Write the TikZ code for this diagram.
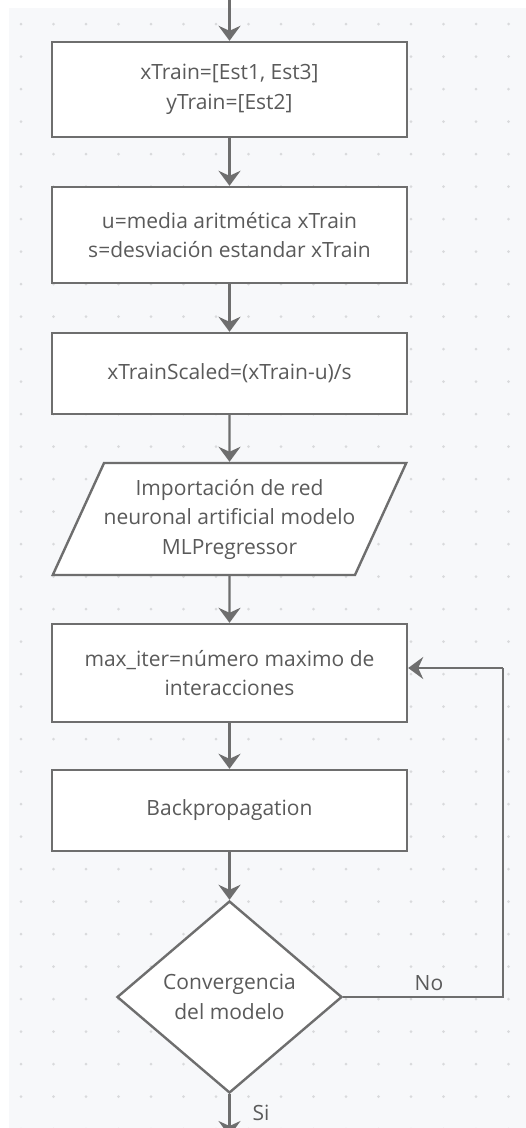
\documentclass[tikz,border=0pt]{standalone}
\usepackage{fontspec}
\setmainfont{Open Sans}
\usetikzlibrary{shapes.geometric,arrows.meta}

\definecolor{linegray}{HTML}{6E6E6E}
\definecolor{textgray}{HTML}{5A5A5A}
\definecolor{paper}{HTML}{F7F8FA}
\definecolor{dotgray}{HTML}{D9DADC}

\begin{document}
\begin{tikzpicture}[x=1pt,y=-1pt]

      \useasboundingbox (0,0) rectangle (526,1128);
      \clip (0,0) rectangle (526,1128);
      \fill[white] (0,0) rectangle (526,1128);
      \fill[paper] (9,8) rectangle (526,1128);
      \foreach \i in {0,...,15} {
        \foreach \j in {0,...,34} {
          \fill[dotgray] (21+32.5*\i,24+32.5*\j) circle (1.5pt);
        }
      }

      \begin{scope}[every node/.style={draw=linegray,line width=2.4pt,fill=white,
          text=textgray,align=center,inner sep=0pt,
          font=\fontsize{21}{29.5}\selectfont}]
        \node[rectangle,minimum width=355pt,minimum height=95pt] (1) at (229.5,89.5)
          {xTrain=[Est1, Est3]\\yTrain=[Est2]};
        \node[rectangle,minimum width=355pt,minimum height=96pt] (2) at (229.5,235)
          {u=media aritmética xTrain\\s=desviación estandar xTrain};
        \node[rectangle,minimum width=355pt,minimum height=81pt] (3) at (229.5,373.5)
          {xTrainScaled=(xTrain-u)/s};
        \node[trapezium,trapezium left angle=57.3,trapezium right angle=122.7,
          trapezium stretches=true,minimum width=355pt,minimum height=112pt] (4) at (229.5,519)
          {Importación de red\\neuronal artificial modelo\\MLPregressor};
        \node[rectangle,minimum width=355pt,minimum height=98pt] (5) at (229.5,673)
          {max\_iter=número maximo de\\interacciones};
        \node[rectangle,minimum width=355pt,minimum height=81pt] (6) at (229.5,810.5)
          {Backpropagation};
        \node[diamond,aspect=1.17,minimum width=225pt,minimum height=192pt] (7) at (229.5,997)
          {Convergencia\\del modelo};
      \end{scope}

      \coordinate (0) at (229.5,0);
      \coordinate (8) at (229.5,1136);
      \coordinate (9) at (503,668);

      \begin{scope}[every node/.style={text=textgray,font=\fontsize{21}{24}\selectfont}]
        \node (no) at (429,983) {No};
        \node (si) at (261,1113) {Si};
      \end{scope}

      \begin{scope}[every edge/.style={draw=linegray,line width=2.4pt,
          -{Stealth[length=15pt,width=22pt,inset=5pt]}}]
        \path (0) edge (1);
        \path (1) edge (2);
        \path (2) edge (3);
        \path (3) edge (4);
        \path (4) edge (5);
        \path (5) edge (6);
        \path (6) edge (7);
        \path (7) edge (8);
        \path (7.east) edge[-,to path={-| (\tikztotarget)}] (9);
        \path (9) edge (9 -| 5.east);
      \end{scope}

    \end{tikzpicture}
\end{document}
